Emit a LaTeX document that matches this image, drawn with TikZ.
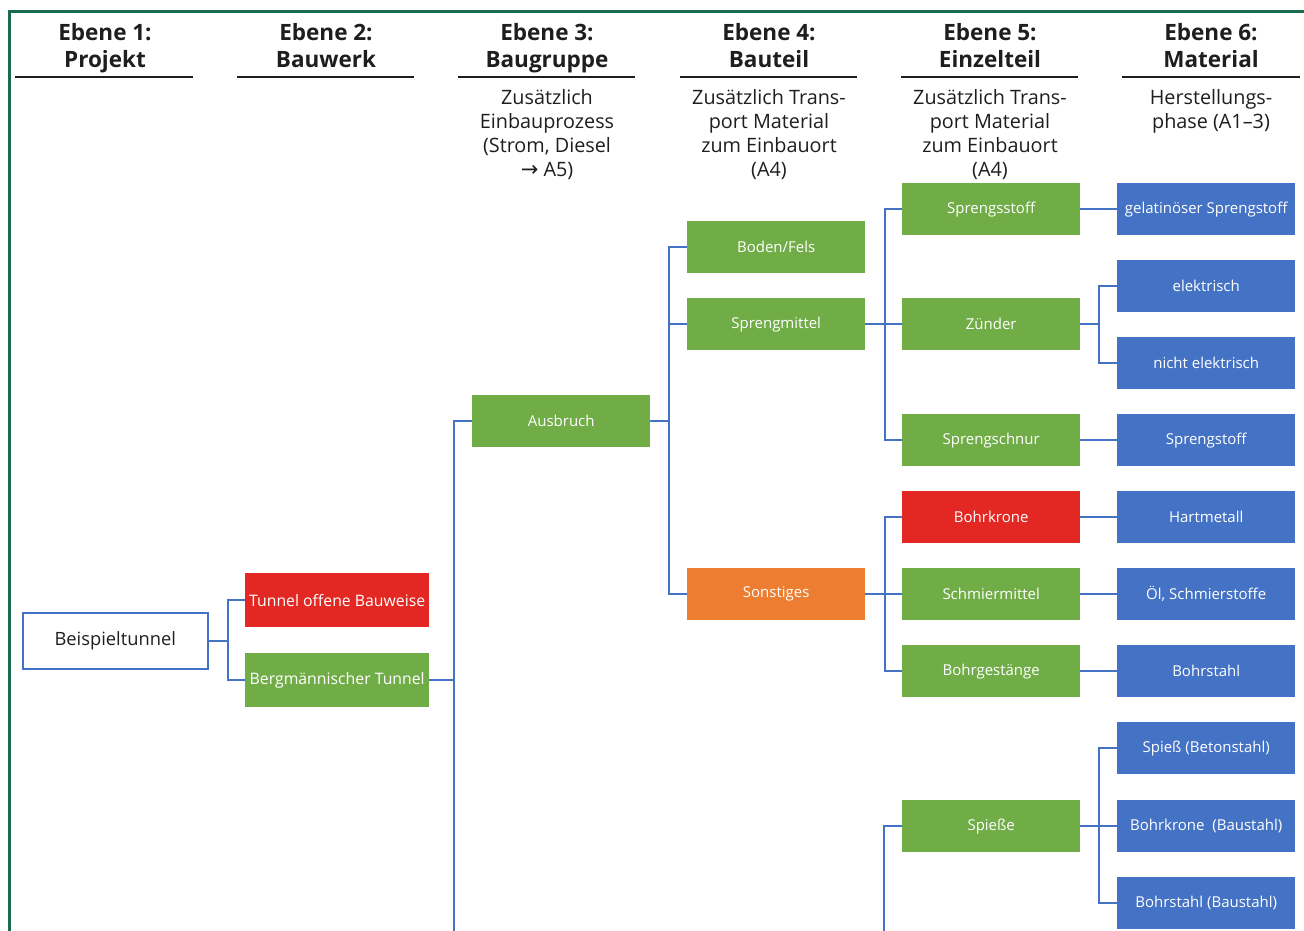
\documentclass[tikz,border=0pt]{standalone}
\usepackage{fontspec}
\setmainfont{Open Sans}
\newfontfamily\arrowfont{DejaVu Sans}
\definecolor{gruen}{HTML}{70AD47}
\definecolor{rot}{HTML}{E32722}
\definecolor{orangebox}{HTML}{ED7D31}
\definecolor{blau}{HTML}{4472C4}
\definecolor{rahmen}{HTML}{1B6B50}
\definecolor{schrift}{HTML}{1E1E1E}
\tikzset{
  base/.style={anchor=north west, minimum width=178pt, minimum height=52pt,
    inner sep=0pt, text=white, font=\fontsize{15}{18}\selectfont},
  gbox/.style={base, fill=gruen},
  rbox/.style={base, fill=rot},
  obox/.style={base, fill=orangebox},
  bbox/.style={base, fill=blau},
  link/.style={draw=blau, line width=2pt},
  kopf/.style={align=center, text=schrift, text depth=6pt, font=\fontsize{22.5}{27}\selectfont\bfseries},
  unterkopf/.style={anchor=north, align=center, text=schrift, font=\fontsize{19.8}{24}\selectfont},
  strich/.style={draw=schrift, line width=1.6pt}
}
\begin{document}
\begin{tikzpicture}[x=1pt,y=-1pt]
\useasboundingbox (0,0) rectangle (1304,931);
% frame
\draw[rahmen, line width=3pt] (9,940) -- (9,12) -- (1310,12);

% column headings
\node[kopf] (k1) at (105,48) {Ebene 1:\\Projekt};
\node[kopf] (k2) at (326,48) {Ebene 2:\\Bauwerk};
\node[kopf] (k3) at (547,48) {Ebene 3:\\Baugruppe};
\node[kopf] (k4) at (769,48) {Ebene 4:\\Bauteil};
\node[kopf] (k5) at (990,48) {Ebene 5:\\Einzelteil};
\node[kopf] (k6) at (1211,48) {Ebene 6:\\Material};
\draw[strich] (15,77) -- (193,77);
\draw[strich] (237,77) -- (414,77);
\draw[strich] (458,77) -- (635,77);
\draw[strich] (680,77) -- (857,77);
\draw[strich] (901,77) -- (1078,77);
\draw[strich] (1122,77) -- (1300,77);

\node[unterkopf] (u3) at (547,86) {Zusätzlich\\Einbauprozess\\(Strom, Diesel\\{\arrowfont\fontsize{21}{24}\selectfont →} A5)};
\node[unterkopf] (u4) at (769,86) {Zusätzlich Trans-\\port Material\\zum Einbauort\\(A4)};
\node[unterkopf] (u5) at (990,86) {Zusätzlich Trans-\\port Material\\zum Einbauort\\(A4)};
\node[unterkopf] (u6) at (1211,86) {Herstellungs-\\phase (A1–3)};

% level 1
\node[base, fill=white, draw=blau, line width=1.5pt, text=schrift, minimum width=185pt, minimum height=56pt,
  font=\fontsize{18.3}{22}\selectfont] (projekt) at (22,612) {Beispieltunnel};
% level 2
\node[rbox, minimum width=184pt, minimum height=54pt, font=\fontsize{15.8}{19}\selectfont] (offen) at (245,573) {Tunnel offene Bauweise};
\node[gbox, minimum width=184pt, minimum height=54pt, font=\fontsize{15.8}{19}\selectfont] (berg) at (245,653) {Bergmännischer Tunnel};
% level 3
\node[gbox] (ausbruch) at (472,395) {Ausbruch};
% level 4
\node[gbox] (boden) at (687,221) {Boden/Fels};
\node[gbox] (sprengmittel) at (687,298) {Sprengmittel};
\node[obox] (sonstiges) at (687,568) {Sonstiges};
% level 5
\node[gbox] (sprengsstoff) at (902,183) {Sprengsstoff};
\node[gbox] (zuender) at (902,298) {Zünder};
\node[gbox] (schnur) at (902,414) {Sprengschnur};
\node[rbox] (bohrkrone) at (902,491) {Bohrkrone};
\node[gbox] (schmier) at (902,568) {Schmiermittel};
\node[gbox] (gestaenge) at (902,645) {Bohrgestänge};
\node[gbox] (spiesse) at (902,800) {Spieße};
% level 6
\node[bbox] (gelatin) at (1117,183) {gelatinöser Sprengstoff};
\node[bbox] (elek) at (1117,260) {elektrisch};
\node[bbox] (nichtelek) at (1117,337) {nicht elektrisch};
\node[bbox] (sprengstoff) at (1117,414) {Sprengstoff};
\node[bbox] (hartmetall) at (1117,491) {Hartmetall};
\node[bbox] (oel) at (1117,568) {Öl, Schmierstoffe};
\node[bbox] (bohrstahl) at (1117,645) {Bohrstahl};
\node[bbox] (spiess) at (1117,722) {Spieß (Betonstahl)};
\node[bbox] (krone2) at (1117,800) {Bohrkrone\ \ (Baustahl)};
\node[bbox] (stahl2) at (1117,877) {Bohrstahl (Baustahl)};

% branches running past the lower edge
\coordinate (weiter1) at (454,935);
\coordinate (weiter2) at (884,935);

% connectors
\draw[link] (projekt.east) -- ++(19,0) |- (offen.west);
\draw[link] (projekt.east) -- ++(19,0) |- (berg.west);
\draw[link] (berg.east) -| (weiter1);
\draw[link] (berg.east) -- ++(25,0) |- (ausbruch.west);
\draw[link] (ausbruch.east) -- ++(19,0) |- (boden.west);
\draw[link] (ausbruch.east) -- ++(19,0) |- (sprengmittel.west);
\draw[link] (ausbruch.east) -- ++(19,0) |- (sonstiges.west);
\draw[link] (sprengmittel.east) -- ++(20,0) |- (sprengsstoff.west);
\draw[link] (sprengmittel.east) -- ++(20,0) |- (zuender.west);
\draw[link] (sprengmittel.east) -- ++(20,0) |- (schnur.west);
\draw[link] (sonstiges.east) -- ++(20,0) |- (bohrkrone.west);
\draw[link] (sonstiges.east) -- ++(20,0) |- (schmier.west);
\draw[link] (sonstiges.east) -- ++(20,0) |- (gestaenge.west);
\draw[link] (spiesse.west) -| (weiter2);
\draw[link] (sprengsstoff.east) -- (gelatin.west);
\draw[link] (zuender.east) -- ++(19,0) |- (elek.west);
\draw[link] (zuender.east) -- ++(19,0) |- (nichtelek.west);
\draw[link] (schnur.east) -- (sprengstoff.west);
\draw[link] (bohrkrone.east) -- (hartmetall.west);
\draw[link] (schmier.east) -- (oel.west);
\draw[link] (gestaenge.east) -- (bohrstahl.west);
\draw[link] (spiesse.east) -- ++(19,0) |- (spiess.west);
\draw[link] (spiesse.east) -- ++(19,0) |- (krone2.west);
\draw[link] (spiesse.east) -- ++(19,0) |- (stahl2.west);
\end{tikzpicture}
\end{document}
